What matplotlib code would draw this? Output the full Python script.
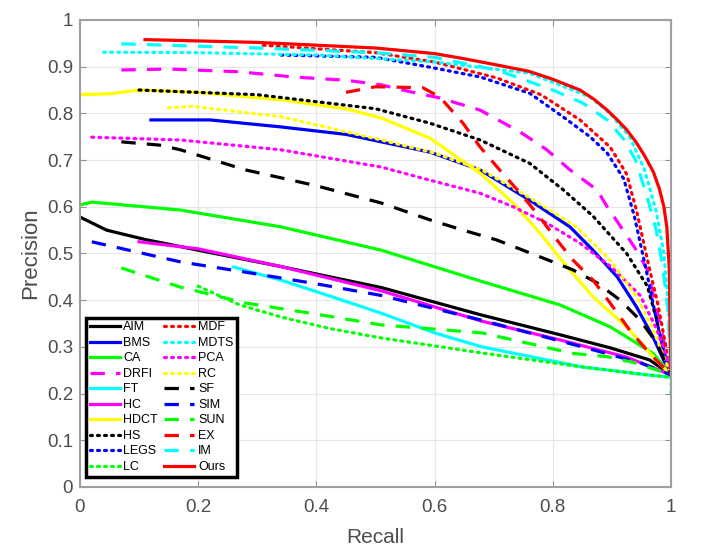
#!/usr/bin/env python3
import matplotlib
matplotlib.use("Agg")
import matplotlib.pyplot as plt

plt.rcParams['font.family'] = ['Liberation Sans', 'DejaVu Sans']

# precision-recall curves, values
aim_r = [0.0, 0.045, 0.11, 0.2, 0.34, 0.51, 0.68, 0.812, 0.897, 0.964, 1.0]
aim_p = [0.578, 0.55, 0.53, 0.507, 0.472, 0.427, 0.368, 0.326, 0.298, 0.272, 0.24]

bms_r = [0.12, 0.22, 0.34, 0.45, 0.51, 0.592, 0.677, 0.761, 0.829, 0.868, 0.909, 0.942, 0.97, 0.993, 1.0]
bms_p = [0.786, 0.786, 0.771, 0.755, 0.739, 0.717, 0.679, 0.614, 0.557, 0.507, 0.45, 0.385, 0.32, 0.257, 0.24]

ca_r = [0.0, 0.02, 0.17, 0.34, 0.51, 0.68, 0.812, 0.897, 0.97, 1.0]
ca_p = [0.604, 0.61, 0.593, 0.557, 0.507, 0.44, 0.39, 0.343, 0.286, 0.24]

drfi_r = [0.07, 0.15, 0.27, 0.36, 0.45, 0.51, 0.56, 0.609, 0.677, 0.745, 0.79, 0.829, 0.875, 0.892,
          0.919, 0.94, 0.96, 0.98, 1.0]
drfi_p = [0.893, 0.895, 0.889, 0.878, 0.871, 0.861, 0.846, 0.833, 0.807, 0.76, 0.722, 0.679, 0.636, 0.60,
          0.55, 0.51, 0.465, 0.357, 0.24]

ft_r = [0.26, 0.34, 0.42, 0.51, 0.6, 0.68, 0.85, 0.96, 1.0]
ft_p = [0.471, 0.443, 0.41, 0.372, 0.33, 0.30, 0.257, 0.24, 0.235]

hc_r = [0.1, 0.2, 0.34, 0.51, 0.68, 0.812, 0.925, 1.0]
hc_p = [0.525, 0.51, 0.472, 0.42, 0.355, 0.315, 0.278, 0.24]

hdct_r = [0.0, 0.05, 0.1, 0.2, 0.34, 0.45, 0.51, 0.592, 0.677, 0.733, 0.778, 0.812, 0.868, 0.925, 0.98, 1.0]
hdct_p = [0.84, 0.842, 0.85, 0.845, 0.829, 0.81, 0.79, 0.747, 0.672, 0.608, 0.544, 0.49, 0.407, 0.343, 0.265, 0.24]

hs_r = [0.1, 0.2, 0.3, 0.4, 0.5, 0.592, 0.677, 0.761, 0.818, 0.868, 0.9, 0.925, 0.96, 0.976, 0.987, 1.0]
hs_p = [0.85, 0.845, 0.84, 0.825, 0.81, 0.779, 0.743, 0.693, 0.636, 0.58, 0.535, 0.50, 0.43, 0.357, 0.286, 0.24]

legs_r = [0.34, 0.5, 0.592, 0.677, 0.761, 0.818, 0.863, 0.892, 0.92, 0.938, 0.958, 0.975, 0.988, 1.0]
legs_p = [0.925, 0.92, 0.899, 0.878, 0.843, 0.792, 0.75, 0.715, 0.66, 0.58, 0.465, 0.36, 0.29, 0.24]

lc_r = [0.2, 0.27, 0.34, 0.42, 0.51, 0.68, 0.85, 0.96, 1.0]
lc_p = [0.43, 0.39, 0.364, 0.34, 0.319, 0.287, 0.257, 0.24, 0.235]

mdf_r = [0.31, 0.5, 0.6, 0.705, 0.78, 0.846, 0.897, 0.925, 0.942, 0.964, 0.978, 0.99, 1.0]
mdf_p = [0.946, 0.93, 0.91, 0.876, 0.84, 0.786, 0.728, 0.67, 0.59, 0.465, 0.39, 0.31, 0.24]

mdts_r = [0.04, 0.2, 0.4, 0.6, 0.761, 0.863, 0.897, 0.93, 0.955, 0.975, 0.988, 0.996, 1.0, 1.0]
mdts_p = [0.931, 0.93, 0.925, 0.91, 0.886, 0.835, 0.80, 0.75, 0.68, 0.59, 0.50, 0.38, 0.25, 0.20]

pca_r = [0.02, 0.17, 0.34, 0.51, 0.592, 0.677, 0.733, 0.79, 0.846, 0.9, 0.948, 0.975, 0.99, 1.0]
pca_p = [0.749, 0.743, 0.722, 0.685, 0.657, 0.629, 0.60, 0.565, 0.522, 0.47, 0.41, 0.34, 0.29, 0.24]

rc_r = [0.15, 0.19, 0.34, 0.51, 0.6, 0.68, 0.76, 0.84, 0.897, 0.942, 0.97, 1.0]
rc_p = [0.812, 0.815, 0.793, 0.743, 0.715, 0.679, 0.62, 0.557, 0.486, 0.407, 0.336, 0.24]

sf_r = [0.07, 0.135, 0.17, 0.28, 0.4, 0.51, 0.592, 0.648, 0.705, 0.778, 0.834, 0.875, 0.914, 0.948, 0.976, 1.0]
sf_p = [0.739, 0.732, 0.722, 0.679, 0.645, 0.608, 0.572, 0.55, 0.529, 0.493, 0.465, 0.437, 0.40, 0.357, 0.308, 0.24]

sim_r = [0.02, 0.17, 0.28, 0.4, 0.51, 0.68, 0.85, 0.95, 1.0]
sim_p = [0.525, 0.482, 0.46, 0.435, 0.41, 0.357, 0.30, 0.265, 0.24]

sun_r = [0.07, 0.17, 0.28, 0.4, 0.51, 0.68, 0.834, 0.892, 0.942, 1.0]
sun_p = [0.469, 0.428, 0.394, 0.37, 0.347, 0.33, 0.286, 0.279, 0.265, 0.24]

ex_r = [0.45, 0.5, 0.58, 0.609, 0.648, 0.677, 0.71, 0.745, 0.773, 0.807, 0.834, 0.868, 0.897, 0.93, 0.964, 1.0]
ex_p = [0.845, 0.857, 0.855, 0.835, 0.779, 0.728, 0.679, 0.629, 0.586, 0.529, 0.486, 0.443, 0.394, 0.336, 0.286, 0.24]

im_r = [0.07, 0.3, 0.5, 0.6, 0.705, 0.8, 0.851, 0.892, 0.92, 0.94, 0.96, 0.975, 0.985, 0.995, 1.0]
im_p = [0.949, 0.94, 0.93, 0.92, 0.893, 0.85, 0.822, 0.786, 0.745, 0.70, 0.62, 0.55, 0.48, 0.38, 0.24]

ours_r = [0.11, 0.3, 0.5, 0.6, 0.65, 0.7, 0.76, 0.8, 0.846, 0.87, 0.892, 0.91, 0.925, 0.94, 0.955,
          0.97, 0.98, 0.988, 0.993, 0.997, 1.0]
ours_p = [0.958, 0.952, 0.94, 0.928, 0.917, 0.905, 0.89, 0.873, 0.85, 0.83, 0.807, 0.785, 0.765, 0.74, 0.71,
          0.675, 0.64, 0.60, 0.556, 0.47, 0.24]

BLACK, BLUE, GREEN = '#000000', '#0000ff', '#00ff00'
MAGENTA, CYAN, YELLOW, RED = '#ff00ff', '#00ffff', '#ffff00', '#ff0000'
SOLID = '-'
DASH = (0, (4.5, 3.5))
DOT = (0, (0.6, 1.6))

curves = [
    ("AIM", aim_r, aim_p, BLACK, SOLID),
    ("BMS", bms_r, bms_p, BLUE, SOLID),
    ("CA", ca_r, ca_p, GREEN, SOLID),
    ("DRFI", drfi_r, drfi_p, MAGENTA, DASH),
    ("FT", ft_r, ft_p, CYAN, SOLID),
    ("HC", hc_r, hc_p, MAGENTA, SOLID),
    ("HDCT", hdct_r, hdct_p, YELLOW, SOLID),
    ("HS", hs_r, hs_p, BLACK, DOT),
    ("LEGS", legs_r, legs_p, BLUE, DOT),
    ("LC", lc_r, lc_p, GREEN, DOT),
    ("MDF", mdf_r, mdf_p, RED, DOT),
    ("MDTS", mdts_r, mdts_p, CYAN, DOT),
    ("PCA", pca_r, pca_p, MAGENTA, DOT),
    ("RC", rc_r, rc_p, YELLOW, DOT),
    ("SF", sf_r, sf_p, BLACK, DASH),
    ("SIM", sim_r, sim_p, BLUE, DASH),
    ("SUN", sun_r, sun_p, GREEN, DASH),
    ("EX", ex_r, ex_p, RED, DASH),
    ("IM", im_r, im_p, CYAN, DASH),
    ("Ours", ours_r, ours_p, RED, SOLID),
]


def main():
    fig = plt.figure(figsize=(7.04, 5.52), dpi=100)
    ax = fig.add_axes([0.1136, 0.1178, 0.8395, 0.846])

    for name, r, p, color, ls in curves:
        ax.plot(r, p, color=color, linestyle=ls, linewidth=2.3,
                dash_capstyle='round' if ls == DOT else 'butt', label=name)

    ax.set_xlim(0, 1)
    ax.set_ylim(0, 1)
    ax.set_xticks([0, 0.2, 0.4, 0.6, 0.8, 1])
    ax.set_xticklabels(["0", "0.2", "0.4", "0.6", "0.8", "1"])
    ax.set_yticks([i / 10 for i in range(11)])
    ax.set_yticklabels(["0"] + ["%.1f" % (i / 10) for i in range(1, 10)] + ["1"])
    ax.grid(True, color='#e6e6e6', linewidth=0.8)
    ax.set_axisbelow(True)
    ax.tick_params(direction='in', top=True, right=True, labelsize=13.5,
                   labelcolor='#4d4d4d', color='#909090', length=4)
    ax.tick_params(axis='x', pad=9)
    ax.tick_params(axis='y', pad=5)
    for s in ax.spines.values():
        s.set_color('#a0a0a0')
        s.set_linewidth(1.5)
    ax.set_xlabel("Recall", fontsize=15, color='#4d4d4d', labelpad=8)
    ax.set_ylabel("Precision", fontsize=16, color='#4d4d4d', labelpad=4)

    leg = ax.legend(ncol=2, loc='lower left', bbox_to_anchor=(0.01, 0.022),
                    fontsize=9, handlelength=2.4, handletextpad=0.3,
                    columnspacing=0.5, labelspacing=0.28, borderpad=0.3,
                    fancybox=False, framealpha=1, borderaxespad=0)
    leg.get_frame().set_edgecolor('k')
    leg.get_frame().set_linewidth(2.5)

    fig.savefig("out.png", dpi=100)


if __name__ == '__main__':
    main()
